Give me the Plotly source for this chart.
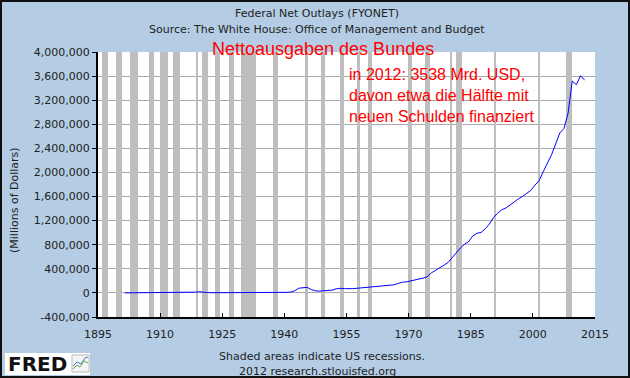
import pandas as pd
import plotly.graph_objects as go

# ---------------- data ----------------
fiscal_years = list(range(1901, 2013))
net_outlays = [
    524.6, 485.2, 517.0, 583.7, 567.3, 570.2, 579.1, 659.2, 693.7, 693.6,
    691.2, 689.9, 714.9, 725.5, 746.1, 712.9, 1953.6, 12677.4, 18492.7, 6357.7,
    5061.8, 3289.4, 3140.3, 2907.8, 2923.8, 2929.9, 2857.5, 2961.2, 3127, 3320,
    3577, 4659, 4598, 6541, 6412, 8228, 7580, 6840, 9141, 9468,
    13653, 35137, 78555, 91304, 92712, 55232, 34496, 29764, 38835, 42562,
    45514, 67686, 76101, 70855, 68444, 70640, 76578, 82405, 92098, 92191,
    97723, 106821, 111316, 118528, 118228, 134532, 157464, 178134, 183640, 195649,
    210172, 230681, 245707, 269359, 332332, 371792, 409218, 458746, 504028, 590941,
    678241, 745743, 808364, 851805, 946344, 990382, 1004017, 1064416, 1143744, 1252994,
    1324226, 1381529, 1409386, 1461753, 1515742, 1560484, 1601116, 1652458, 1701842, 1788950,
    1862846, 2010894, 2159899, 2292841, 2471957, 2655050, 2728686, 2982544, 3517677, 3457079,
    3603059, 3537127,
]
recession_starts = ["1895-12-01", "1899-06-01", "1902-09-01", "1907-05-01", "1910-01-01",
                    "1913-01-01", "1918-08-01", "1920-01-01", "1923-05-01", "1926-10-01",
                    "1929-08-01", "1937-05-01", "1945-02-01", "1948-11-01", "1953-07-01",
                    "1957-08-01", "1960-04-01", "1969-12-01", "1973-11-01", "1980-01-01",
                    "1981-07-01", "1990-07-01", "2001-03-01", "2007-12-01"]
recession_ends = ["1897-06-01", "1900-12-01", "1904-08-01", "1908-06-01", "1912-01-01",
                  "1914-12-01", "1919-03-01", "1921-07-01", "1924-07-01", "1927-11-01",
                  "1933-03-01", "1938-06-01", "1945-10-01", "1949-10-01", "1954-05-01",
                  "1958-04-01", "1961-02-01", "1970-11-01", "1975-03-01", "1980-07-01",
                  "1982-11-01", "1991-03-01", "2001-11-01", "2009-06-01"]
x_tick_years = [1895, 1910, 1925, 1940, 1955, 1970, 1985, 2000, 2015]
y_tick_values = list(range(-400000, 4000001, 400000))
y_min, y_max = -400000, 4000000

# ---------------- layout helpers ----------------
W, H = 630, 378
PLOT_L, PLOT_R, PLOT_T, PLOT_B = 98, 595, 52, 317
BG = "#B4CDE4"
TXT = "#222222"


def fx(px):
    return px / W


def fy(py):
    return 1 - py / H


dates = [f"{y}-07-01" for y in fiscal_years]

rs = pd.to_datetime(recession_starts)
re_ = pd.to_datetime(recession_ends)
rec_mid = [s + (e - s) / 2 for s, e in zip(rs, re_)]
rec_width = [(e - s).total_seconds() * 1000 for s, e in zip(rs, re_)]

fig = go.Figure()
fig.add_trace(go.Bar(x=rec_mid, y=[y_max - y_min] * len(rec_mid), base=y_min,
                     width=rec_width, marker=dict(color="#BEBEBE", line=dict(width=0)),
                     hoverinfo="skip", showlegend=False))
fig.add_trace(go.Scatter(x=dates, y=net_outlays, mode="lines",
                         line=dict(color="#0000FF", width=1), hoverinfo="skip",
                         showlegend=False))

fig.update_layout(
    width=W, height=H,
    margin=dict(l=0, r=0, t=0, b=0, pad=0),
    paper_bgcolor=BG, plot_bgcolor="white",
    font=dict(family="DejaVu Sans", size=11, color=TXT),
    showlegend=False, bargap=0,
    xaxis=dict(
        domain=[fx(PLOT_L), fx(PLOT_R)],
        type="date",
        range=["1895-01-01", "2015-01-01"],
        tickvals=[f"{y}-01-01" for y in x_tick_years],
        ticktext=[str(y) for y in x_tick_years],
        ticks="inside", ticklen=4, tickwidth=1, tickcolor="black",
        showline=True, linecolor="black", linewidth=2,
        showgrid=False, zeroline=False, automargin=False,
        ticklabelstandoff=6,
        tickfont=dict(family="DejaVu Sans", size=11, color=TXT),
    ),
    yaxis=dict(
        domain=[fy(PLOT_B), fy(PLOT_T)],
        range=[y_min, y_max],
        tickvals=y_tick_values,
        ticktext=[f"{v:,}" for v in y_tick_values],
        ticks="outside", ticklen=4, tickwidth=1, tickcolor="black",
        showline=True, linecolor="black", linewidth=2,
        showgrid=True, gridcolor="#AAAAAA", gridwidth=1,
        zeroline=False, automargin=False, layer="below traces",
        tickfont=dict(family="DejaVu Sans", size=11, color=TXT),
    ),
)

ann = []
ann.append(dict(text="Federal Net Outlays (FYONET)", x=fx(317), y=fy(14),
                font=dict(family="DejaVu Sans", size=11, color=TXT)))
ann.append(dict(text="Source: The White House: Office of Management and Budget", x=fx(317), y=fy(30),
                font=dict(family="DejaVu Sans", size=11, color=TXT)))
ann.append(dict(text="Nettoausgaben des Bundes", x=fx(323), y=fy(49),
                font=dict(family="Liberation Sans", size=18, color="#FF0000")))
ann.append(dict(text="in 2012: 3538 Mrd. USD,<br>davon etwa die Hälfte mit<br>neuen Schulden finanziert",
                x=fx(347), y=fy(95), xanchor="left", align="left",
                font=dict(family="Liberation Sans", size=16, color="#FF0000")))
ann.append(dict(text="(Millions of Dollars)", x=fx(14), y=fy(200), textangle=-90,
                font=dict(family="DejaVu Sans", size=11, color=TXT)))
ann.append(dict(text="Shaded areas indicate US recessions.", x=fx(322), y=fy(356),
                font=dict(family="DejaVu Sans", size=11, color=TXT)))
ann.append(dict(text="2012 research.stlouisfed.org", x=fx(317), y=fy(371),
                font=dict(family="DejaVu Sans", size=11, color=TXT)))
ann.append(dict(text="<b>FRED</b>", x=fx(6), y=fy(364), xanchor="left",
                font=dict(family="DejaVu Sans", size=20, color="#111111")))
for a in ann:
    a.setdefault("xanchor", "center")
    a.update(xref="paper", yref="paper", yanchor="middle", showarrow=False)
fig.update_layout(annotations=ann)

shapes = []
# FRED logo background and icon
shapes.append(dict(type="rect", x0=fx(5), x1=fx(90), y0=fy(375), y1=fy(353),
                   fillcolor="white", line=dict(width=0), layer="below"))
shapes.append(dict(type="rect", x0=fx(72), x1=fx(89), y0=fy(372), y1=fy(355),
                   fillcolor="#F4F4F4", line=dict(color="#BBBBBB", width=1), layer="above"))
shapes.append(dict(type="path", layer="above",
                   path=f"M {fx(73)},{fy(369)} L {fx(77)},{fy(365)} L {fx(80)},{fy(367)} L {fx(84)},{fy(361)} L {fx(88)},{fy(363)}",
                   line=dict(color="#6AA84F", width=1)))
shapes.append(dict(type="path", layer="above",
                   path=f"M {fx(73)},{fy(366)} L {fx(77)},{fy(362)} L {fx(81)},{fy(364)} L {fx(85)},{fy(358)} L {fx(88)},{fy(357)}",
                   line=dict(color="#4A7FC0", width=1)))
# outer frame
shapes.append(dict(type="rect", x0=fx(1), x1=fx(629), y0=fy(377), y1=fy(1),
                   line=dict(color="#111111", width=2), fillcolor="rgba(0,0,0,0)", layer="above"))
for s in shapes:
    s.update(xref="paper", yref="paper")
    fig.add_shape(**s)

fig.write_html("out.html", config={"displayModeBar": False},
               post_script="document.body.style.margin='0';document.body.style.padding='0';")
